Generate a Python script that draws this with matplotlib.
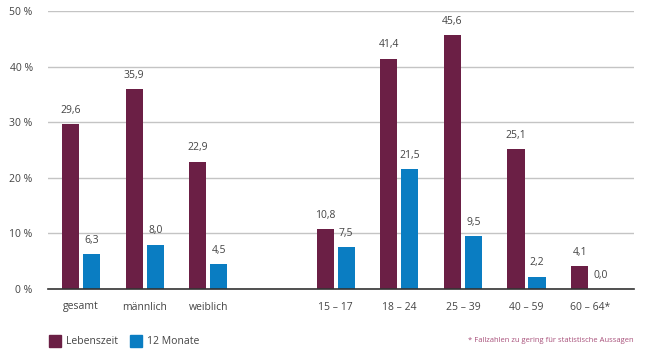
import numpy as np
import matplotlib
matplotlib.use("Agg")
import matplotlib.pyplot as plt
from matplotlib.patches import Rectangle

# data
categories = ["gesamt", "männlich", "weiblich", "15 – 17", "18 – 24", "25 – 39", "40 – 59", "60 – 64*"]
slots = [0, 1, 2, 4, 5, 6, 7, 8]
lebenszeit = [29.6, 35.9, 22.9, 10.8, 41.4, 45.6, 25.1, 4.1]
monate12 = [6.3, 8.0, 4.5, 7.5, 21.5, 9.5, 2.2, 0.0]
yticks = [0, 10, 20, 30, 40, 50]
ytick_labels = ["0 %", "10 %", "20 %", "30 %", "40 %", "50 %"]

maroon = "#6b1f45"
blue = "#0a7dc2"
txt = "#444444"

plt.rcParams["font.family"] = ["Open Sans", "DejaVu Sans"]

fig = plt.figure(figsize=(6.62, 3.63), dpi=100)
ax = fig.add_axes([48 / 662, 74 / 363, (634 - 48) / 662, (289 - 11) / 363])

x = np.array(slots, dtype=float)
w = 0.27
off = 0.165
ax.bar(x - off, lebenszeit, w, color=maroon, zorder=3)
ax.bar(x + off, monate12, w, color=blue, zorder=3)

for xi, v in zip(x, lebenszeit):
    ax.text(xi - off, v + 1.5, f"{v:.1f}".replace(".", ","), ha="center", va="bottom",
            fontsize=7.5, color=txt)
for xi, v in zip(x, monate12):
    ax.text(xi + off, v + 1.5, f"{v:.1f}".replace(".", ","), ha="center", va="bottom",
            fontsize=7.5, color=txt)

ax.set_xlim(-0.52, 8.69)
ax.set_ylim(0, 50)
ax.set_yticks(yticks)
ax.set_yticklabels(ytick_labels, fontsize=7.5, color=txt)
ax.set_xticks(x)
ax.set_xticklabels(categories, fontsize=7.5, color=txt)
ax.tick_params(length=0)
ax.tick_params(axis="y", pad=11)
ax.tick_params(axis="x", pad=9)
ax.grid(axis="y", color="#c4c4c4", linewidth=1, zorder=0)
for s in ["top", "right", "left"]:
    ax.spines[s].set_visible(False)
ax.spines["bottom"].set_color("#333333")
ax.spines["bottom"].set_linewidth(1.2)
ax.spines["bottom"].set_zorder(4)

# legend
for lx, col, lab in [(49, maroon, "Lebenszeit"), (130, blue, "12 Monate")]:
    fig.patches.append(Rectangle((lx / 662, (363 - 347) / 363), 12 / 662, 12 / 363,
                                 transform=fig.transFigure, color=col))
    fig.text((lx + 17) / 662, (363 - 341) / 363, lab, fontsize=7.5, color=txt, va="center")

fig.text(634 / 662, (363 - 341) / 363, "* Fallzahlen zu gering für statistische Aussagen",
         fontsize=5.5, color="#a8507a", ha="right", va="center")

fig.savefig("out.png", dpi=100)
